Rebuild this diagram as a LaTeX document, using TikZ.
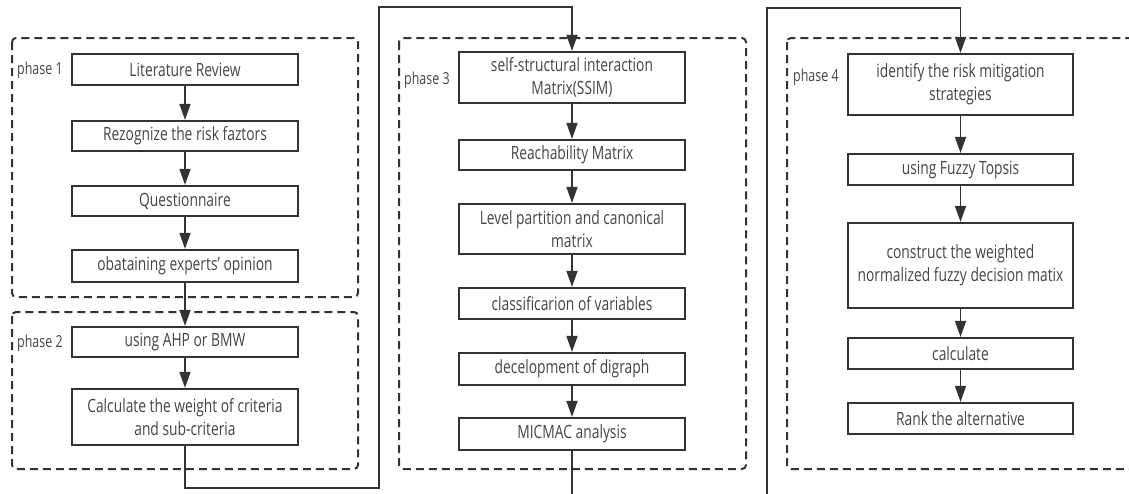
\documentclass[tikz,border=0pt]{standalone}
\usepackage{fontspec}
\setmainfont{Open Sans}[FakeStretch=0.755]
\usetikzlibrary{arrows.meta}
\definecolor{ink}{HTML}{333333}
\definecolor{txt}{HTML}{454545}
\tikzset{
  stepbox/.style={draw=ink, line width=2.2pt, fill=white, minimum width=226pt,
    minimum height=30pt, inner sep=0pt, align=center, text=txt,
    font=\fontsize{18.3}{22.7}\selectfont},
  phasebox/.style={draw=ink, line width=2pt, dash pattern=on 8pt off 5pt,
    rounded corners=4pt},
  phaselabel/.style={anchor=west, inner sep=0pt, text=txt,
    font=\fontsize{16.5}{20}\selectfont},
  flow/.style={draw=ink, line width=1.6pt, -{Triangle[length=16pt,width=11pt]}}
}
\begin{document}
\begin{tikzpicture}[x=1pt, y=-1pt]
\useasboundingbox (0,0) rectangle (1129,493);

% phase frames
\draw[phasebox] (12,38) rectangle (358,297);
\draw[phasebox] (12,312) rectangle (358,469);
\draw[phasebox] (399,38) rectangle (746,469);
\draw[phasebox] (787,38) rectangle (1145,469);

\node[phaselabel] (p1) at (17,70) {phase 1};
\node[phaselabel] (p2) at (17,343) {phase 2};
\node[phaselabel] (p3) at (404,80) {phase 3};
\node[phaselabel] (p4) at (793,77) {phase 4};

% phase 1
\node[stepbox, minimum height=31pt] (lit) at (185,69.5) {Literature Review};
\node[stepbox] (rez) at (185,136) {Rezognize the risk faztors};
\node[stepbox] (que) at (185,201) {Questionnaire};
\node[stepbox, minimum height=32pt] (obt) at (185,266) {obataining experts' opinion};
% phase 2
\node[stepbox] (ahp) at (185,342) {using AHP or BMW};
\node[stepbox, minimum height=56pt] (cal) at (185,417) {Calculate the weight of criteria\\and sub-criteria};
% phase 3
\node[stepbox, minimum height=51pt] (ssim) at (572,77.5) {self-structural interaction\\Matrix(SSIM)};
\node[stepbox] (rea) at (572,155) {Reachability Matrix};
\node[stepbox, minimum height=50pt] (lev) at (572,229) {Level partition and canonical\\matrix};
\node[stepbox, minimum height=31pt] (cla) at (572,303.5) {classificarion of variables};
\node[stepbox, minimum height=32pt] (dev) at (572,369) {decelopment of digraph};
\node[stepbox, minimum height=32pt] (mic) at (572,434) {MICMAC analysis};
% phase 4
\node[stepbox, minimum width=225pt, minimum height=61pt] (ide) at (960.5,84.5) {identify the risk mitigation\\strategies};
\node[stepbox, minimum width=225pt, minimum height=31pt] (top) at (960.5,169.5) {using Fuzzy Topsis};
\node[stepbox, minimum width=225pt, minimum height=85pt] (con) at (960.5,265.5) {construct the weighted\\normalized fuzzy decision matix};
\node[stepbox, minimum width=225pt, minimum height=31pt] (cl2) at (960.5,353.5) {calculate};
\node[stepbox, minimum width=225pt, minimum height=31pt] (ran) at (960.5,418.5) {Rank the alternative};

% arrows inside phases
\draw[flow] (lit) -- (rez);
\draw[flow] (rez) -- (que);
\draw[flow] (que) -- (obt);
\draw[flow] (obt) -- (ahp);
\draw[flow] (ahp) -- (cal);
\draw[flow] (ssim) -- (rea);
\draw[flow] (rea) -- (lev);
\draw[flow] (lev) -- (cla);
\draw[flow] (cla) -- (dev);
\draw[flow] (dev) -- (mic);
\draw[flow] (ide) -- (top);
\draw[flow] (top) -- (con);
\draw[flow] (con) -- (cl2);
\draw[flow] (cl2) -- (ran);

% links between phases
\coordinate (a1) at (185,488);
\coordinate (a2) at (379,488);
\coordinate (a3) at (379,7);
\coordinate (a4) at (572,7);
\draw[flow] (cal.south) -- (a1) -- (a2) -- (a3) -- (a4) -- (ssim.north);

\coordinate (b1) at (572,510);
\coordinate (b2) at (767,510);
\coordinate (b3) at (767,8);
\coordinate (b4) at (960.5,8);
\draw[flow] (mic.south) -- (b1) -- (b2) -- (b3) -- (b4) -- (ide.north);
\end{tikzpicture}
\end{document}
